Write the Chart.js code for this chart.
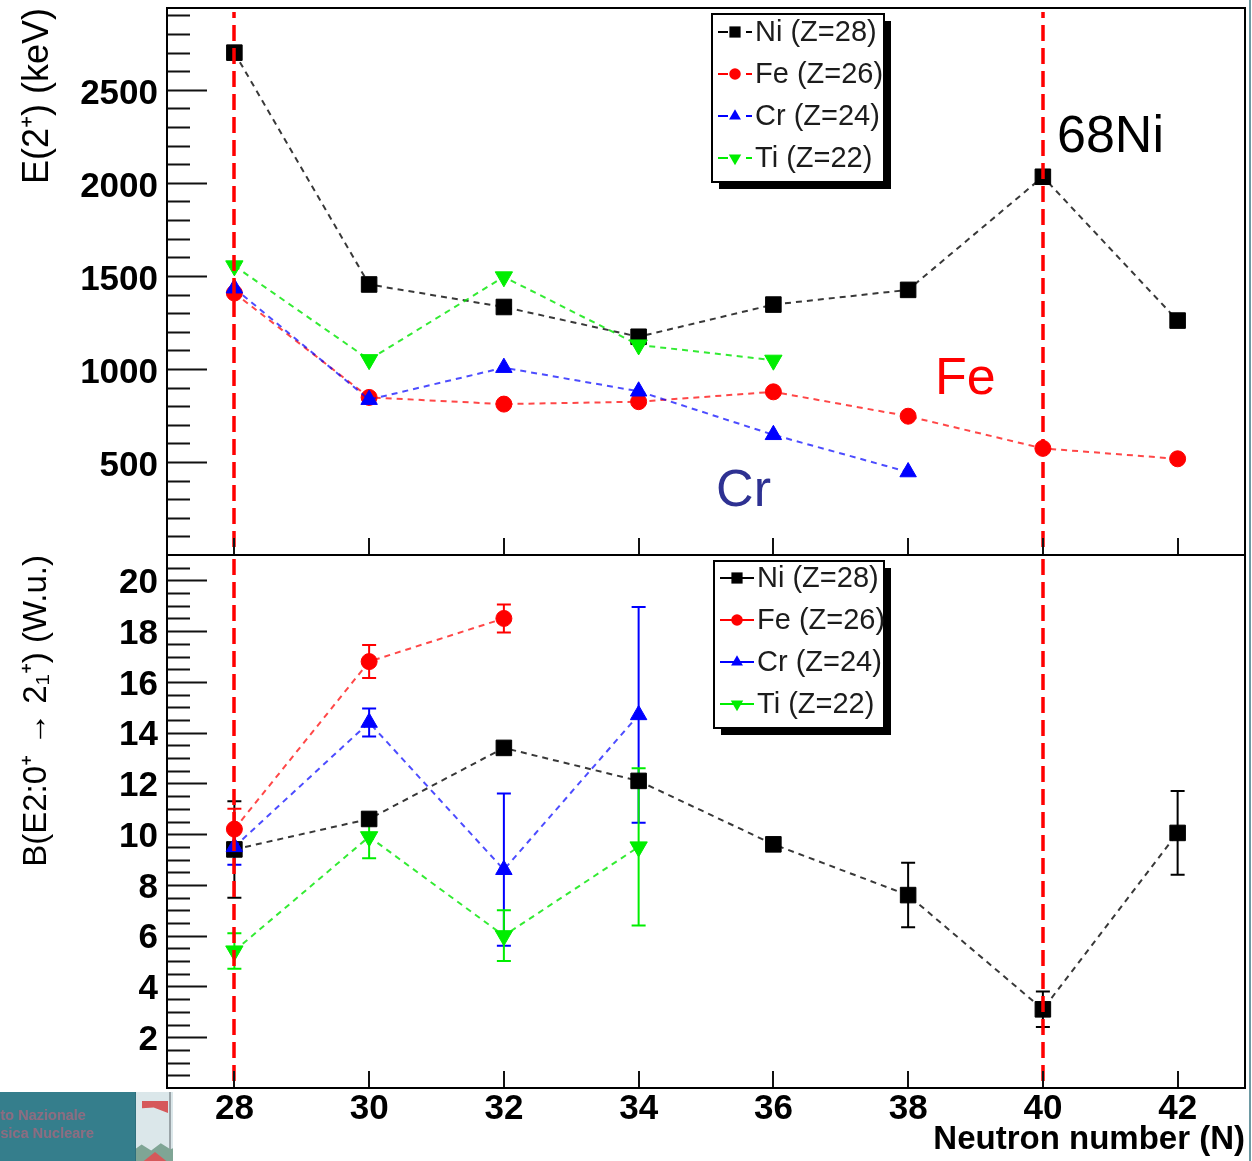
<!DOCTYPE html>
<html>
<head>
<meta charset="utf-8">
<title>E(2+) and B(E2) systematics</title>
<script src="https://cdn.jsdelivr.net/npm/chart.js@4.4.1/dist/chart.umd.min.js"></script>
<style>
  html, body { margin: 0; padding: 0; background: #fff; }
  body { width: 1252px; height: 1161px; position: relative; overflow: hidden;
         font-family: "Liberation Sans", Arial, sans-serif; }
  canvas { position: absolute; left: 0; }
  #energyChart { top: 0; }
  #strengthChart { top: 554px; }
  #badge { position: absolute; left: 0; top: 1092px; width: 135px; height: 69px; background: #357e8c; }
  #badge div { position: absolute; left: 0; font: bold 14.5px "Liberation Sans", Arial, sans-serif;
               color: #8c6c80; white-space: nowrap; }
  #badge .l1 { top: 15px; }
  #badge .l2 { top: 33px; }
  #pic { position: absolute; left: 135px; top: 1092px; width: 37px; height: 69px; background: #dbe7ea;
         border-left: 1px solid #2f6f7c; overflow: hidden; }
  #pic .flag { position: absolute; left: 6px; top: 9px; width: 26px; height: 12px; background: #d6585a;
               clip-path: polygon(0 0, 100% 0, 100% 100%, 45% 55%, 0 60%); }
  #pic .pole { position: absolute; left: 33px; top: 0; width: 2px; height: 69px; background: #9aa4a8; }
  #pic .hill { position: absolute; left: -4px; top: 50px; width: 48px; height: 24px; background: #7fa595;
               clip-path: polygon(0 40%, 20% 10%, 40% 35%, 60% 5%, 80% 30%, 100% 15%, 100% 100%, 0 100%); }
  #pic .roof { position: absolute; left: 4px; top: 60px; width: 30px; height: 12px; background: #d6585a;
               clip-path: polygon(0 100%, 50% 0, 100% 100%); }
  #edge { position: absolute; left: 1249px; top: 0; width: 2px; height: 1161px; background: #6d9aa3; }
</style>
</head>
<body>
<canvas id="energyChart" width="1252" height="556"></canvas>
<canvas id="strengthChart" width="1252" height="607"></canvas>
<div id="badge"><div class="l1">to Nazionale</div><div class="l2">sica Nucleare</div></div>
<div id="pic"><div class="flag"></div><div class="pole"></div><div class="hill"></div><div class="roof"></div></div>
<div id="edge"></div>
<script>
// Neutron numbers of the isotopes shown (even N from 28 to 42)
const neutronNumbers = [28, 30, 32, 34, 36, 38, 40, 42];
const seriesLabels = ['Ni (Z=28)', 'Fe (Z=26)', 'Cr (Z=24)', 'Ti (Z=22)'];
const magicNumbers = [28, 40];

// First 2+ excitation energies (keV), indexed like neutronNumbers
const energyNi = [2700, 1454, 1333, 1173, 1346, 1425, 2033, 1260];
const energyFe = [1408, 847, 811, 824, 877, 746, 573, 517];
const energyCr = [1434, 835, 1007, 880, 646, 446];
const energyTi = [1554, 1050, 1495, 1129, 1047];

// B(E2; 0+ -> 2+1) in Weisskopf units, with symmetric uncertainties
const strengthNi = [9.4, 10.6, 13.4, 12.1, 9.6, 7.6, 3.1, 10.05];
const strengthNiErr = [1.9, 0, 0, 0, 0, 1.27, 0.7, 1.65];
const strengthFe = [10.2, 16.8, 18.5];
const strengthFeErr = [0.8, 0.65, 0.55];
const strengthCr = [9.5, 14.4, 8.6, 14.7];
const strengthCrErr = [0.7, 0.55, 3.0, 4.25];
const strengthTi = [5.4, 9.9, 6.0, 9.5];
const strengthTiErr = [0.7, 0.85, 1.0, 3.1];

// Axis tick labels
const energyTicks = [500, 1000, 1500, 2000, 2500];
const strengthTicks = [2, 4, 6, 8, 10, 12, 14, 16, 18, 20];
const neutronTicks = [28, 30, 32, 34, 36, 38, 40, 42];

Chart.defaults.font.family = "'Liberation Sans', Arial, sans-serif";
Chart.defaults.color = '#000';

const toPoints = vals => vals.map((v, i) => ({ x: neutronNumbers[i], y: v }));

// marker look per element: colour, dashed line colour, point style, radius, rotation
const looks = [
  { color: '#000000', line: 'rgba(0,0,0,0.78)',   style: 'rect',     r: 11,  rot: 0 },
  { color: '#ff0000', line: 'rgba(255,0,0,0.72)', style: 'circle',   r: 8,   rot: 0 },
  { color: '#0000ff', line: 'rgba(0,0,255,0.7)',  style: 'triangle', r: 9.5, rot: 0 },
  { color: '#00ee00', line: 'rgba(0,230,0,0.8)',  style: 'triangle', r: 10,  rot: 180 }
];

function series(k, values, errors) {
  const lk = looks[k];
  return {
    label: seriesLabels[k],
    data: toPoints(values),
    errors: errors ? errors.slice() : null,
    borderColor: lk.line,
    borderWidth: 2,
    borderDash: [6, 5],
    backgroundColor: lk.color,
    pointBackgroundColor: lk.color,
    pointBorderColor: lk.color,
    pointBorderWidth: 1,
    pointStyle: lk.style,
    pointRadius: lk.r,
    pointRotation: lk.rot,
    pointHoverRadius: lk.r,
    tension: 0,
    fill: false,
    order: 4 - k,
    markerLook: lk
  };
}

function drawMarker(ctx, lk, x, y, scale) {
  const r = lk.r * scale;
  ctx.fillStyle = lk.color;
  ctx.beginPath();
  if (lk.style === 'rect') {
    const s = r * Math.SQRT1_2;
    ctx.rect(x - s, y - s, 2 * s, 2 * s);
  } else if (lk.style === 'circle') {
    ctx.arc(x, y, r, 0, Math.PI * 2);
  } else {
    let rad = lk.rot * Math.PI / 180;
    ctx.moveTo(x + Math.sin(rad) * r, y - Math.cos(rad) * r);
    rad += 2 * Math.PI / 3;
    ctx.lineTo(x + Math.sin(rad) * r, y - Math.cos(rad) * r);
    rad += 2 * Math.PI / 3;
    ctx.lineTo(x + Math.sin(rad) * r, y - Math.cos(rad) * r);
    ctx.closePath();
  }
  ctx.fill();
}

// vertical error bars with end caps
const errorBars = {
  id: 'errorBars',
  beforeDatasetsDraw(chart) {
    const { ctx, scales: { y } } = chart;
    ctx.save();
    ctx.lineWidth = 2;
    ctx.setLineDash([]);
    chart.data.datasets.forEach((ds, di) => {
      if (!ds.errors) return;
      const meta = chart.getDatasetMeta(di);
      ctx.strokeStyle = ds.markerLook.color;
      ds.data.forEach((p, i) => {
        const e = ds.errors[i];
        if (!e) return;
        const px = meta.data[i].x;
        const y1 = y.getPixelForValue(p.y + e);
        const y2 = y.getPixelForValue(p.y - e);
        ctx.beginPath();
        ctx.moveTo(px, y1); ctx.lineTo(px, y2);
        ctx.moveTo(px - 7, y1); ctx.lineTo(px + 7, y1);
        ctx.moveTo(px - 7, y2); ctx.lineTo(px + 7, y2);
        ctx.stroke();
      });
    });
    ctx.restore();
  }
};

// frame, inward ticks and the dashed magic-number markers
const frameAndTicks = {
  id: 'frameAndTicks',
  afterDatasetsDraw(chart, args, o) {
    const { ctx, chartArea: a, scales: { x, y } } = chart;
    ctx.save();
    ctx.strokeStyle = '#ff0000';
    ctx.lineWidth = 3.5;
    ctx.setLineDash([16, 7]);
    ctx.lineDashOffset = o.dashOffset || 0;
    magicNumbers.forEach(n => {
      const px = Math.round(x.getPixelForValue(n));
      ctx.beginPath();
      ctx.moveTo(px, a.top + 4);
      ctx.lineTo(px, a.bottom);
      ctx.stroke();
    });
    ctx.setLineDash([]);
    ctx.strokeStyle = '#111';
    ctx.lineWidth = 2;
    ctx.beginPath();
    const steps = Math.round((y.max - y.min) / o.minorStep);
    for (let k = 1; k <= steps; k++) {
      const v = y.min + k * o.minorStep;
      if (v >= y.max - 1e-9) break;
      const isMajor = Math.abs(v / o.majorStep - Math.round(v / o.majorStep)) < 1e-6;
      const py = Math.round(y.getPixelForValue(v)) + 0.5;
      ctx.moveTo(a.left, py);
      ctx.lineTo(a.left + (isMajor ? 40 : 23), py);
    }
    neutronTicks.forEach(n => {
      const px = Math.round(x.getPixelForValue(n));
      ctx.moveTo(px, a.bottom);
      ctx.lineTo(px, a.bottom - 17);
    });
    ctx.stroke();
    ctx.strokeStyle = '#000';
    ctx.strokeRect(a.left, a.top, a.right - a.left, a.bottom - a.top);
    ctx.restore();
  }
};

// boxed legend with drop shadow
const boxLegend = {
  id: 'boxLegend',
  afterDraw(chart, args, o) {
    const { ctx } = chart;
    ctx.save();
    ctx.fillStyle = '#000';
    ctx.fillRect(o.x + 7, o.y + 7, o.w, o.h);
    ctx.fillStyle = '#fff';
    ctx.fillRect(o.x, o.y, o.w, o.h);
    ctx.strokeStyle = '#000';
    ctx.lineWidth = 2;
    ctx.strokeRect(o.x, o.y, o.w, o.h);
    chart.data.datasets.forEach((ds, i) => {
      const ry = o.y + o.first + i * o.gap;
      const lk = ds.markerLook;
      const lx0 = o.x + 6, lx1 = o.x + 40, mx = o.x + 23;
      ctx.strokeStyle = lk.color;
      ctx.lineWidth = 2;
      ctx.beginPath();
      if (o.dashed) {
        ctx.moveTo(lx0, ry); ctx.lineTo(lx0 + 10, ry);
        ctx.moveTo(lx1 - 6, ry); ctx.lineTo(lx1, ry);
      } else {
        ctx.moveTo(lx0, ry); ctx.lineTo(lx1, ry);
      }
      ctx.stroke();
      drawMarker(ctx, lk, mx, ry, 0.72);
      ctx.fillStyle = '#1c1c1c';
      ctx.font = "29px 'Liberation Sans', Arial, sans-serif";
      ctx.textBaseline = 'middle';
      ctx.textAlign = 'left';
      ctx.fillText(ds.label, o.x + 43, ry + 1);
    });
    ctx.restore();
  }
};

// free text notes placed in data coordinates
const notes = {
  id: 'notes',
  afterDraw(chart, args, o) {
    if (!o.items) return;
    const { ctx, scales: { x, y } } = chart;
    ctx.save();
    ctx.font = "52px 'Liberation Sans', Arial, sans-serif";
    ctx.textBaseline = 'middle';
    ctx.textAlign = 'left';
    o.items.forEach(it => {
      ctx.fillStyle = it.color;
      ctx.fillText(it.text, x.getPixelForValue(it.n), y.getPixelForValue(it.v));
    });
    ctx.restore();
  }
};

const tickFont = { size: 35, weight: 'bold' };

function yAxis(min, max, ticks, title, titleSize, titlePad, labelShift) {
  return {
    type: 'linear', min, max,
    grid: { display: false, drawTicks: false },
    border: { display: false },
    afterBuildTicks: s => { s.ticks = ticks.map(v => ({ value: v })); },
    afterFit: s => { s.width = 167; s.paddingTop = 0; s.paddingBottom = 0; },
    ticks: { callback: v => String(v), font: tickFont, color: '#000', padding: 9, labelOffset: labelShift },
    title: { display: true, text: title, align: 'end', color: '#000',
             font: { size: titleSize }, padding: { top: titlePad, bottom: 0 } }
  };
}

const common = {
  responsive: false,
  animation: false,
  devicePixelRatio: 1,
  events: []
};

new Chart(document.getElementById('energyChart'), {
  type: 'line',
  data: {
    datasets: [
      series(0, energyNi),
      series(1, energyFe),
      series(2, energyCr),
      series(3, energyTi)
    ]
  },
  options: Object.assign({}, common, {
    layout: { autoPadding: false, padding: { top: 8, right: 7, bottom: 1, left: 0 } },
    scales: {
      x: { type: 'linear', min: 27, max: 43, display: false },
      y: yAxis(0, 2940, energyTicks, 'E(2\u207A) (keV)', 36, 16, 4)
    },
    plugins: {
      legend: { display: false },
      tooltip: { enabled: false },
      frameAndTicks: { minorStep: 100, majorStep: 500, dashOffset: 10 },
      boxLegend: { x: 712, y: 14, w: 172, h: 168, first: 18, gap: 42, dashed: true },
      notes: { items: [
        { text: '68Ni', n: 40.21, v: 2241, color: '#000000' },
        { text: 'Fe',   n: 38.40, v: 941,  color: '#ff0000' },
        { text: 'Cr',   n: 35.15, v: 339,  color: '#2e3192' }
      ] }
    }
  }),
  plugins: [errorBars, frameAndTicks, boxLegend, notes]
});

new Chart(document.getElementById('strengthChart'), {
  type: 'line',
  data: {
    datasets: [
      series(0, strengthNi, strengthNiErr),
      series(1, strengthFe, strengthFeErr),
      series(2, strengthCr, strengthCrErr),
      series(3, strengthTi, strengthTiErr)
    ]
  },
  options: Object.assign({}, common, {
    layout: { autoPadding: false, padding: { top: 1, right: 7, bottom: 0, left: 0 } },
    scales: {
      x: {
        type: 'linear', min: 27, max: 43,
        grid: { display: false, drawTicks: false },
        border: { display: false },
        afterBuildTicks: s => { s.ticks = neutronTicks.map(v => ({ value: v })); },
        afterFit: s => { s.height = 73; s.paddingLeft = 0; s.paddingRight = 0; },
        ticks: { callback: v => String(v), font: tickFont, color: '#000', padding: 0, maxRotation: 0, autoSkip: false },
        title: { display: true, text: 'Neutron number (N)', align: 'end', color: '#000',
                 font: { size: 33, weight: 'bold' }, padding: { top: 0, bottom: 1 } }
      },
      y: yAxis(0, 21, strengthTicks, 'B(E2:0\u207A \u2192 2\u2081\u207A) (W.u.)', 33, 17, 3)
    },
    plugins: {
      legend: { display: false },
      tooltip: { enabled: false },
      frameAndTicks: { minorStep: 0.5, majorStep: 2, dashOffset: 0 },
      boxLegend: { x: 714, y: 7, w: 170, h: 167, first: 17, gap: 42, dashed: false }
    }
  }),
  plugins: [errorBars, frameAndTicks, boxLegend, notes]
});
</script>
</body>
</html>
